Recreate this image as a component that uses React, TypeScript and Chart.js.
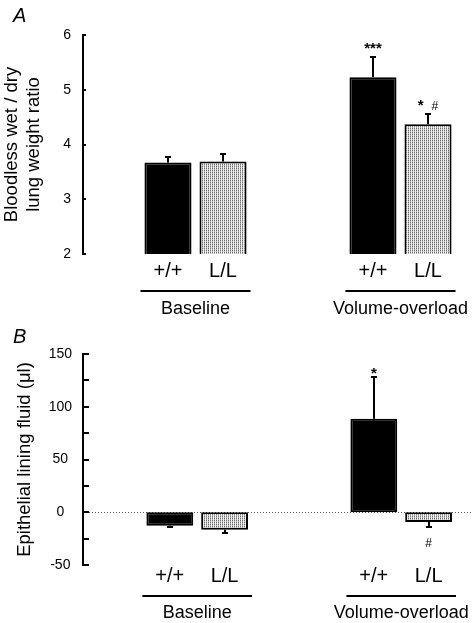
import React, { useEffect, useRef } from 'react';
import { Chart, registerables } from 'chart.js';

Chart.register(...registerables);

const FONT = "'Liberation Sans', Arial, Helvetica, sans-serif";

// shared categories
const groups = ['Baseline', 'Volume-overload'];
const genotypes = ['+/+', 'L/L'];

// Panel A: bloodless wet/dry lung weight ratio
const ratioWT = [3.67, 5.23];
const ratioLL = [3.69, 4.37];
const ratioErrWT = [0.11, 0.36];
const ratioErrLL = [0.13, 0.18];
const ratioSigWT = ['', '***'];
const ratioSigLL = ['', '*  #'];
const ratioTicks = [2, 3, 4, 5, 6];
const ratioTickLabels = [2, 3, 4, 5, 6];

// Panel B: epithelial lining fluid (µl)
const elfWT = [-12.7, 88.6];
const elfLL = [-16.5, -9.2];
const elfErrWT = [1.5, 40];
const elfErrLL = [3.5, 5];
const elfSigWT = ['', '*'];
const elfSigLL = ['', '#'];
const elfTicks = [-50, -25, 0, 25, 50, 75, 100, 125, 150];
const elfTickLabels = [-50, 0, 50, 100, 150];

type Panel = {
  letter: string;
  letterBaseline: number;
  top: number;
  width: number;
  height: number;
  values: number[][];
  errors: number[][];
  sigs: string[][];
  ticks: number[];
  tickLabels: number[];
  yMin: number;
  yMax: number;
  xMin: number;
  xMax: number;
  title: string | string[];
  titlePad: number;
  padTop: number;
  padBottom: number;
  tickLen: number;
  labelPad: number;
  crossAlign: 'near' | 'center';
  genoDy: number;
  lineDy: number;
  groupDy: number;
  sigUp: number;
  sigDown: number;
  zeroLine: boolean;
};

const panelA: Panel = {
  letter: 'A',
  letterBaseline: 22,
  top: 0,
  width: 472,
  height: 318,
  values: [ratioWT, ratioLL],
  errors: [ratioErrWT, ratioErrLL],
  sigs: [ratioSigWT, ratioSigLL],
  ticks: ratioTicks,
  tickLabels: ratioTickLabels,
  yMin: 2,
  yMax: 6,
  xMin: 0.4512,
  xMax: 2.3488,
  title: ['Bloodless wet / dry', 'lung weight ratio'],
  titlePad: 1,
  padTop: 35,
  padBottom: 64,
  tickLen: 3,
  labelPad: 12,
  crossAlign: 'near',
  genoDy: 23,
  lineDy: 37,
  groupDy: 59.5,
  sigUp: 4,
  sigDown: 0,
  zeroLine: false,
};

const panelB: Panel = {
  letter: 'B',
  letterBaseline: 25.3,
  top: 318,
  width: 472,
  height: 305,
  values: [elfWT, elfLL],
  errors: [elfErrWT, elfErrLL],
  sigs: [elfSigWT, elfSigLL],
  ticks: elfTicks,
  tickLabels: elfTickLabels,
  yMin: -50,
  yMax: 150,
  xMin: 0.4402,
  xMax: 2.347,
  title: 'Epithelial lining fluid (\u03bcl)',
  titlePad: 14,
  padTop: 36,
  padBottom: 58,
  tickLen: 6,
  labelPad: 11,
  crossAlign: 'center',
  genoDy: 17,
  lineDy: 31,
  groupDy: 53.3,
  sigUp: -1,
  sigDown: 20,
  zeroLine: true,
};

function makePattern(canvas: HTMLCanvasElement): CanvasPattern | string {
  const c = document.createElement('canvas');
  c.width = 2;
  c.height = 2;
  const g = c.getContext('2d');
  if (!g) return '#c4c4c4';
  g.fillStyle = '#f0f0f0';
  g.fillRect(0, 0, 2, 2);
  g.fillStyle = '#6e6e6e';
  g.fillRect(0, 0, 1, 1);
  g.fillStyle = '#b4b4b4';
  g.fillRect(0, 1, 1, 1);
  const ctx = canvas.getContext('2d');
  return (ctx && ctx.createPattern(c, 'repeat')) || '#c4c4c4';
}

function drawSig(ctx: CanvasRenderingContext2D, text: string, cx: number, baseline: number) {
  const fontFor = (ch: string) => (ch === '#' ? `12px ${FONT}` : ch === '*' ? `bold 15px ${FONT}` : `14px ${FONT}`);
  let total = 0;
  const widths: number[] = [];
  for (const ch of text) {
    ctx.font = fontFor(ch);
    const w = ctx.measureText(ch).width;
    widths.push(w);
    total += w;
  }
  let x = cx - total / 2;
  ctx.textAlign = 'left';
  ctx.textBaseline = 'alphabetic';
  let i = 0;
  for (const ch of text) {
    ctx.font = fontFor(ch);
    ctx.fillText(ch, x, baseline);
    x += widths[i++];
  }
}

function ChartPanel({ p }: { p: Panel }) {
  const ref = useRef<HTMLCanvasElement>(null);

  useEffect(() => {
    const canvas = ref.current;
    if (!canvas) return;
    const pattern = makePattern(canvas);
    const fills: (string | CanvasPattern)[] = ['#000000', pattern];

    const decor = {
      id: 'decor' + p.letter,
      beforeDatasetsDraw(chart: any) {
        if (!p.zeroLine) return;
        const ctx = chart.ctx as CanvasRenderingContext2D;
        const y = Math.round(chart.scales.y.getPixelForValue(0)) + 0.5;
        ctx.save();
        ctx.strokeStyle = '#555';
        ctx.lineWidth = 1;
        ctx.setLineDash([1, 2]);
        ctx.beginPath();
        ctx.moveTo(chart.chartArea.left, y);
        ctx.lineTo(chart.width, y);
        ctx.stroke();
        ctx.restore();
      },
      afterDraw(chart: any) {
        const ctx = chart.ctx as CanvasRenderingContext2D;
        const ys = chart.scales.y;
        const area = chart.chartArea;
        ctx.save();
        ctx.fillStyle = '#000';
        ctx.strokeStyle = '#000';

        // inward tick marks
        ctx.lineWidth = 2;
        for (const v of p.ticks) {
          const y = Math.round(ys.getPixelForValue(v));
          ctx.beginPath();
          ctx.moveTo(area.left, y);
          ctx.lineTo(area.left + p.tickLen, y);
          ctx.stroke();
        }

        // error bars and significance marks
        p.values.forEach((vals, i) => {
          const meta = chart.getDatasetMeta(i);
          vals.forEach((v, j) => {
            const el: any = meta.data[j];
            if (!el) return;
            const e = p.errors[i][j];
            const end = v >= 0 ? v + e : v - e;
            const yEnd = Math.round(ys.getPixelForValue(end));
            const x = Math.round(el.x);
            ctx.lineWidth = 2;
            ctx.beginPath();
            ctx.moveTo(x, el.y);
            ctx.lineTo(x, yEnd);
            ctx.moveTo(x - 3, yEnd);
            ctx.lineTo(x + 3, yEnd);
            ctx.stroke();
            const s = p.sigs[i][j];
            if (s) {
              const by = v >= 0 ? yEnd - p.sigUp : yEnd + p.sigDown;
              drawSig(ctx, s, el.x, by);
            }
          });
        });

        // genotype labels under bars
        ctx.font = `20px ${FONT}`;
        ctx.textAlign = 'center';
        ctx.textBaseline = 'alphabetic';
        p.values.forEach((vals, i) => {
          const meta = chart.getDatasetMeta(i);
          vals.forEach((_v, j) => {
            const el: any = meta.data[j];
            if (!el) return;
            ctx.fillText(genotypes[i], el.x, area.bottom + p.genoDy);
          });
        });

        // group underline and names
        groups.forEach((g, j) => {
          const a: any = chart.getDatasetMeta(0).data[j];
          const b: any = chart.getDatasetMeta(1).data[j];
          if (!a || !b) return;
          const l = a.x - a.width / 2 - 4;
          const r = b.x + b.width / 2 + 4;
          const y = Math.round(area.bottom + p.lineDy);
          ctx.lineWidth = 2;
          ctx.beginPath();
          ctx.moveTo(l, y);
          ctx.lineTo(r, y);
          ctx.stroke();
          ctx.font = `18px ${FONT}`;
          ctx.textAlign = 'center';
          ctx.fillText(g, (a.x + b.x) / 2, area.bottom + p.groupDy);
        });

        // panel letter
        ctx.font = `italic 20px ${FONT}`;
        ctx.textAlign = 'left';
        ctx.fillText(p.letter, 13, p.letterBaseline);
        ctx.restore();
      },
    };

    const chart = new Chart(canvas, {
      type: 'bar',
      data: {
        datasets: genotypes.map((g, i) => ({
          label: g,
          data: p.values[i].map((v, j) => ({ x: j + 1, y: v })),
          backgroundColor: fills[i],
          borderColor: '#000000',
          borderWidth: 2,
          borderSkipped: false,
          categoryPercentage: 0.537,
          barPercentage: 0.855,
        })),
      } as any,
      options: {
        responsive: false,
        animation: false,
        devicePixelRatio: 1,
        layout: { padding: { top: p.padTop, bottom: p.padBottom, left: 0, right: 0 } },
        plugins: {
          legend: { display: false },
          tooltip: { enabled: false },
          title: { display: false },
        },
        scales: {
          x: {
            type: 'linear',
            display: false,
            offset: false,
            grid: { offset: false },
            min: p.xMin,
            max: p.xMax,
            afterBuildTicks: (s: any) => {
              s.ticks = groups.map((_g, j) => ({ value: j + 1 }));
            },
          },
          y: {
            type: 'linear',
            min: p.yMin,
            max: p.yMax,
            afterBuildTicks: (s: any) => {
              s.ticks = p.ticks.map((v) => ({ value: v }));
            },
            afterFit: (s: any) => {
              s.width = 83;
            },
            grid: { display: false, drawTicks: false },
            border: { display: true, color: '#000000', width: 2 },
            ticks: {
              color: '#000000',
              font: { family: FONT, size: 14 },
              padding: p.labelPad,
              crossAlign: p.crossAlign,
              autoSkip: false,
              callback: (v: any) => (p.tickLabels.includes(Number(v)) ? String(v) : ''),
            },
            title: {
              display: true,
              text: p.title,
              color: '#000000',
              font: { family: FONT, size: 18.5, lineHeight: 1.2 },
              padding: { top: p.titlePad, bottom: 0 },
            },
          },
        },
      } as any,
      plugins: [decor],
    });

    return () => chart.destroy();
  }, []);

  return (
    <canvas
      ref={ref}
      width={p.width}
      height={p.height}
      style={{ position: 'absolute', left: 0, top: p.top, display: 'block' }}
    />
  );
}

export default function App() {
  return (
    <div style={{ position: 'absolute', left: 0, top: 0, width: 472, height: 623, background: '#ffffff' }}>
      <ChartPanel p={panelA} />
      <ChartPanel p={panelB} />
    </div>
  );
}
